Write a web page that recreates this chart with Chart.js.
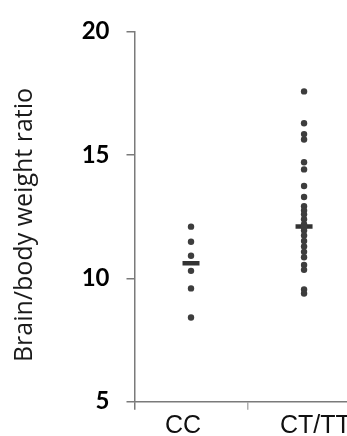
<!DOCTYPE html>
<html>
<head>
<meta charset="utf-8">
<script src="https://cdn.jsdelivr.net/npm/chart.js@4"></script>
<style>
  html, body { margin: 0; padding: 0; background: #fff; }
  #wrap { width: 347px; height: 436px; }
</style>
</head>
<body>
<div id="wrap"><canvas id="c" width="347" height="436"></canvas></div>
<script>
const categories = ['CC', 'CT/TT'];
const ccValues = [12.09, 11.48, 10.91, 10.30, 9.59, 8.41];
const ctValues = [17.57, 16.28, 15.84, 15.62, 14.70, 14.41, 13.74, 13.29, 12.92, 12.75, 12.59, 12.39, 12.19, 12.05, 11.93, 11.73, 11.51, 11.29, 11.07, 10.85, 10.54, 10.34, 9.55, 9.38];
const groupMeans = [10.61, 12.10];
const yTicks = [5, 10, 15, 20];
const yTitle = 'Brain/body weight ratio';

// axis layout (not data)
const boundaryTicks = [0.5, 1.5];
const labelTicks = [0.93, 2.1];

const pts = (vals, x) => vals.map(v => ({ x: x, y: v }));

const yTitlePlugin = {
  id: 'yTitlePlugin',
  afterDraw(chart) {
    const ctx = chart.ctx;
    ctx.save();
    ctx.translate(25, 225);
    ctx.rotate(-Math.PI / 2);
    ctx.textAlign = 'center';
    ctx.textBaseline = 'middle';
    ctx.font = '25px "Open Sans", sans-serif';
    ctx.fillStyle = '#1a1a1a';
    ctx.fillText(yTitle, 0, 0);
    ctx.restore();
  }
};

new Chart(document.getElementById('c'), {
  type: 'scatter',
  data: {
    datasets: [
      {
        data: pts(ccValues, 1).concat(pts(ctValues, 2)),
        pointStyle: 'circle',
        pointRadius: 3.2,
        backgroundColor: '#3d3d3d',
        borderColor: '#3d3d3d',
        borderWidth: 0
      },
      {
        data: groupMeans.map((m, i) => ({ x: i + 1, y: m })),
        pointStyle: 'line',
        pointRadius: 8.5,
        borderColor: '#333333',
        borderWidth: 4.5,
        backgroundColor: '#333333'
      }
    ]
  },
  plugins: [yTitlePlugin],
  options: {
    responsive: false,
    animation: false,
    events: [],
    layout: { autoPadding: false, padding: { top: 22.7, left: 0, right: 0, bottom: 0 } },
    plugins: { legend: { display: false }, tooltip: { enabled: false } },
    scales: {
      x: {
        type: 'linear',
        min: 0.5,
        max: 2.38,
        afterBuildTicks: s => {
          s.ticks = boundaryTicks.concat(labelTicks).sort((a, b) => a - b).map(v => ({ value: v }));
        },
        afterFit: s => { s.height = 436 - 401.7; s.paddingLeft = 0; s.paddingRight = 0; },
        ticks: {
          autoSkip: false,
          maxRotation: 0,
          padding: 1,
          color: '#111',
          font: { family: '"Liberation Sans", Arial, sans-serif', size: 25 },
          callback: v => {
            const i = labelTicks.indexOf(v);
            return i >= 0 ? categories[i] : '';
          }
        },
        grid: {
          drawOnChartArea: false,
          drawTicks: true,
          tickLength: 8,
          lineWidth: 1.5,
          color: c => (c.tick && c.tick.value === 0.5) ? '#7a7a7a' : (c.tick && c.tick.value === 1.5 ? '#b0b0b0' : 'rgba(0,0,0,0)')
        },
        border: { display: true, color: '#7a7a7a', width: 1.5 }
      },
      y: {
        min: 5,
        max: 20,
        afterBuildTicks: s => { s.ticks = yTicks.map(v => ({ value: v })); },
        afterFit: s => { s.width = 134.5; },
        ticks: {
          padding: 17,
          color: '#000',
          font: { family: 'Lato, "Open Sans", sans-serif', size: 24, weight: 'bold' }
        },
        grid: {
          drawOnChartArea: false,
          drawTicks: true,
          tickLength: 8,
          lineWidth: 1.5,
          color: '#7a7a7a'
        },
        border: { display: true, color: '#7a7a7a', width: 1.5 },
        title: { display: false }
      }
    }
  }
});
</script>
</body>
</html>
